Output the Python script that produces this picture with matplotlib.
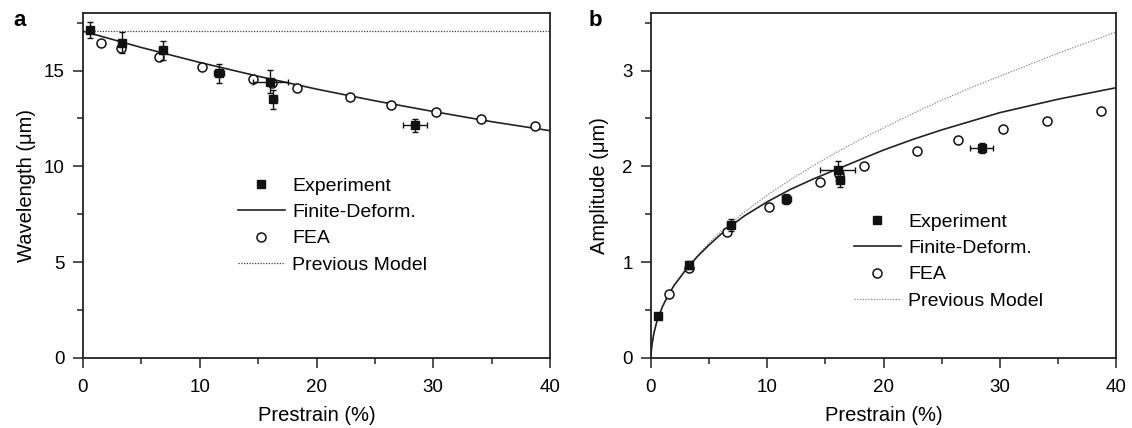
import matplotlib
matplotlib.use("Agg")
import matplotlib.pyplot as plt
from matplotlib.ticker import MultipleLocator

plt.rcParams['font.family'] = ['Liberation Sans', 'DejaVu Sans']

# ---------------- data ----------------
exp_x = [0.6, 3.3, 6.85, 11.65, 16.05, 16.3, 28.45]
exp_xerr = [0.0, 0.0, 0.3, 0.4, 1.5, 0.3, 1.0]
exp_wave = [17.12, 16.46, 16.05, 14.85, 14.42, 13.49, 12.14]
exp_wave_err = [0.43, 0.57, 0.5, 0.5, 0.6, 0.5, 0.35]
exp_amp = [0.44, 0.97, 1.39, 1.66, 1.96, 1.86, 2.19]
exp_amp_err = [0.03, 0.04, 0.06, 0.05, 0.10, 0.075, 0.05]

fea_x = [1.55, 3.25, 6.55, 10.15, 14.55, 16.15, 18.3, 22.9, 26.4, 30.25, 34.05, 38.75]
fea_wave = [16.45, 16.18, 15.68, 15.17, 14.58, 14.37, 14.10, 13.62, 13.22, 12.83, 12.45, 12.08]
fea_amp = [0.67, 0.944, 1.31, 1.58, 1.84, 1.92, 2.0, 2.16, 2.28, 2.39, 2.47, 2.58]

fd_wave_x = [0, 5, 10, 15, 20, 25, 30, 35, 40]
fd_wave = [17.05, 16.2, 15.42, 14.7, 14.03, 13.42, 12.86, 12.33, 11.86]

prev_wave_x = [0, 40]
prev_wave = [17.05, 17.05]

amp_curve_x = [0, 0.02, 0.1, 0.25, 0.5, 1, 1.5, 2, 3, 4, 5, 6, 7, 8, 10, 12, 14, 16, 18,
               20, 22.5, 25, 27.5, 30, 32.5, 35, 37.5, 40]
fd_amp = [0, 0.07, 0.15, 0.26, 0.38, 0.54, 0.66, 0.76, 0.92, 1.06, 1.18, 1.29, 1.39, 1.48,
          1.63, 1.76, 1.87, 1.97, 2.07, 2.17, 2.28, 2.38, 2.47, 2.56, 2.63, 2.70, 2.76, 2.82]
prev_amp = [0, 0.07, 0.15, 0.26, 0.38, 0.54, 0.66, 0.76, 0.93, 1.07, 1.20, 1.32, 1.42, 1.52,
            1.70, 1.86, 2.01, 2.15, 2.28, 2.40, 2.55, 2.69, 2.82, 2.94, 3.06, 3.18, 3.29, 3.40]

labels = ["Experiment", "Finite-Deform.", "FEA", "Previous Model"]

W, H = 1132, 428
fig = plt.figure(figsize=(W / 100, H / 100), dpi=100)


def fx(px):
    return px / W


def fy(py):
    return 1 - py / H


ax_a = fig.add_axes([fx(83), fy(358), 467 / W, 345 / H])
ax_b = fig.add_axes([fx(651), fy(358), 465 / W, 345 / H])

for ax in (ax_a, ax_b):
    for s in ax.spines.values():
        s.set_linewidth(1.3)
        s.set_color('#222222')
    ax.tick_params(which='both', direction='out', top=False, right=False,
                   labelsize=13.5, width=1.1, color='#222222')
    ax.tick_params(axis='x', which='major', pad=8)
    ax.tick_params(axis='y', which='major', pad=6)
    ax.tick_params(which='major', length=7)
    ax.tick_params(which='minor', length=4)
    ax.set_xlim(0, 40)
    ax.xaxis.set_major_locator(MultipleLocator(10))
    ax.xaxis.set_minor_locator(MultipleLocator(5))

# ---------- panel a ----------
ax = ax_a
ax.set_ylim(0, 18)
ax.yaxis.set_major_locator(MultipleLocator(5))
ax.yaxis.set_minor_locator(MultipleLocator(2.5))
l_fd, = ax.plot(fd_wave_x, fd_wave, color='#222222', lw=1.2, zorder=2)
l_prev, = ax.plot(prev_wave_x, prev_wave, color='#444444', lw=0.9, ls=(0, (1, 1.2)), zorder=1)
l_fea, = ax.plot(fea_x, fea_wave, ls='none', marker='o', ms=6.5, mfc='white', mec='#111111',
                 mew=1.1, zorder=3)
ax.errorbar(exp_x, exp_wave, yerr=exp_wave_err, xerr=exp_xerr, fmt='s', ms=6, color='#111111',
            ecolor='#111111', elinewidth=1, capsize=2.5, capthick=1, zorder=4)
l_exp, = ax.plot([], [], ls='none', marker='s', ms=5.5, color='#111111')
ax.set_xlabel("Prestrain (%)", fontsize=14.5, labelpad=7)
ax.set_ylabel("Wavelength (μm)", fontsize=14.5, labelpad=6)
ax.legend([l_exp, l_fd, l_fea, l_prev], labels, loc='upper left',
          bbox_to_anchor=(fx(238), fy(177)), bbox_transform=fig.transFigure,
          frameon=False, fontsize=14, borderpad=0, borderaxespad=0,
          handlelength=2.4, handletextpad=0.4, labelspacing=0.45)
fig.text(fx(20), fy(21), "a", fontsize=16, fontweight='bold', ha='center', va='center')

# ---------- panel b ----------
ax = ax_b
ax.set_ylim(0, 3.6)
ax.yaxis.set_major_locator(MultipleLocator(1))
ax.yaxis.set_minor_locator(MultipleLocator(0.5))
l_prev_b, = ax.plot(amp_curve_x, prev_amp, color='#888888', lw=0.9, ls=(0, (1, 1.2)), zorder=1)
l_fd_b, = ax.plot(amp_curve_x, fd_amp, color='#222222', lw=1.2, zorder=2)
l_fea_b, = ax.plot(fea_x, fea_amp, ls='none', marker='o', ms=6.5, mfc='white', mec='#111111',
                   mew=1.1, zorder=3)
ax.errorbar(exp_x, exp_amp, yerr=exp_amp_err, xerr=exp_xerr, fmt='s', ms=6, color='#111111',
            ecolor='#111111', elinewidth=1, capsize=2.5, capthick=1, zorder=4)
l_exp_b, = ax.plot([], [], ls='none', marker='s', ms=5.5, color='#111111')
ax.set_xlabel("Prestrain (%)", fontsize=14.5, labelpad=7)
ax.set_ylabel("Amplitude (μm)", fontsize=14.5, labelpad=10)
ax.legend([l_exp_b, l_fd_b, l_fea_b, l_prev_b], labels, loc='upper left',
          bbox_to_anchor=(fx(854), fy(213)), bbox_transform=fig.transFigure,
          frameon=False, fontsize=14, borderpad=0, borderaxespad=0,
          handlelength=2.4, handletextpad=0.4, labelspacing=0.45)
fig.text(fx(595), fy(21), "b", fontsize=16, fontweight='bold', ha='center', va='center')

fig.savefig("out.png", dpi=100)
